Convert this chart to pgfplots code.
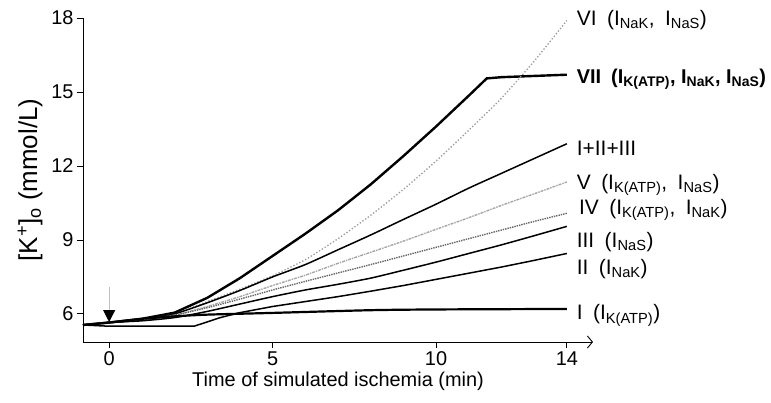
\documentclass[border=0pt]{standalone}
\usepackage{fontspec}
\setmainfont{Liberation Sans}
\usepackage{pgfplots}
\pgfplotsset{compat=1.18}
\usetikzlibrary{arrows.meta}
\newcommand{\lf}{\fontsize{20}{24}\selectfont}
\newcommand{\rf}{\fontsize{21}{25}\selectfont}
\begin{document}
\begin{tikzpicture}
\begin{axis}[
 scale only axis, width=510bp, height=324bp,
 xmin=-0.8, xmax=14.8, ymin=4.86, ymax=18,
 axis x line=bottom, axis y line=left,
 x axis line style={-{Straight Barb[length=5bp,width=12bp]}},
 y axis line style={-},
 axis line style={line width=0.9bp},
 xtick={0,5,10,14}, ytick={6,9,12,15,18},
 tick style={black, line width=0.8bp},
 tick align=outside, major tick length=6bp,
 ticklabel style={font=\lf},
 /pgf/number format/assume math mode=true,
 xlabel={Time of simulated ischemia (min)},
 ylabel={[K\textsuperscript{+}]\textsubscript{o} (mmol/L)},
 xlabel style={font=\lf},
 ylabel style={font=\fontsize{26}{30}\selectfont, yshift=2bp},
 clip=false,
]
% VII
\addplot[black, line width=2.4bp] coordinates {(-0.8,5.55)(0,5.65)(1,5.8)(2,6.05)(3,6.65)(4,7.45)(5,8.35)(6,9.25)(7,10.2)(8,11.25)(9,12.4)(10,13.6)(11,14.85)(11.55,15.55)(12,15.6)(13,15.65)(14,15.7)};
% VI
\addplot[gray!80, line width=1.3bp, dotted, smooth, tension=0.4] coordinates {(-0.8,5.55)(0,5.65)(1,5.75)(2,6.0)(3,6.5)(4,7.0)(5,7.55)(6,8.2)(7,9.05)(8,10.0)(9,11.05)(10,12.2)(11,13.45)(12,14.75)(13,16.25)(14,17.9)};
% I+II+III
\addplot[black, line width=1.5bp, smooth, tension=0.4] coordinates {(-0.8,5.55)(0,5.65)(1,5.75)(2,6.0)(3,6.45)(4,6.95)(5,7.5)(6,8.0)(7,8.6)(8,9.2)(9,9.83)(10,10.45)(11,11.1)(12,11.7)(13,12.3)(14,12.9)};
% V
\addplot[gray!70, line width=1.4bp, densely dashdotted, smooth, tension=0.4] coordinates {(-0.8,5.55)(0,5.65)(1,5.75)(2,5.95)(3,6.3)(4,6.7)(5,7.15)(6,7.57)(7,8.05)(8,8.5)(9,8.95)(10,9.43)(11,9.9)(12,10.4)(13,10.87)(14,11.35)};
% IV
\addplot[gray!80!black, line width=1.4bp, densely dotted, smooth, tension=0.4] coordinates {(-0.8,5.55)(0,5.65)(1,5.75)(2,5.95)(3,6.25)(4,6.6)(5,6.97)(6,7.32)(7,7.66)(8,8.0)(9,8.35)(10,8.7)(11,9.05)(12,9.4)(13,9.75)(14,10.08)};
% III
\addplot[black, line width=1.5bp, smooth, tension=0.4] coordinates {(-0.8,5.55)(0,5.65)(1,5.72)(2,5.85)(3,6.1)(4,6.4)(5,6.7)(6,6.97)(7,7.2)(8,7.45)(9,7.77)(10,8.1)(11,8.45)(12,8.8)(13,9.17)(14,9.55)};
% II
\addplot[black, line width=1.5bp] coordinates {(-0.8,5.55)(0,5.5)(1,5.5)(2.6,5.5)(3.4,5.85)(4,6.05)(5,6.3)(6,6.5)(7,6.7)(8,6.92)(9,7.15)(10,7.4)(11,7.65)(12,7.9)(13,8.17)(14,8.45)};
% I
\addplot[black, line width=2.2bp, smooth, tension=0.4] coordinates {(-0.8,5.55)(0,5.65)(1,5.8)(2,5.9)(3,5.97)(5,6.04)(8,6.15)(10,6.18)(14,6.2)};
% arrow
\draw[gray!50, line width=1bp, -{Triangle[length=12bp,width=12bp,color=black]}] (axis cs:0,7.1) -- (axis cs:0,5.67);
% labels
\node[anchor=base west, font=\rf, inner sep=0pt] at (axis cs:14.3,17.71) {VI\enspace(I\textsubscript{NaK},\enspace I\textsubscript{NaS})};
\node[anchor=base west, font=\lf\bfseries, inner sep=0pt] at (axis cs:14.3,15.35) {VII\enspace(I\textsubscript{K(ATP)}, I\textsubscript{NaK}, I\textsubscript{NaS})};
\node[anchor=base west, font=\rf, inner sep=0pt] at (axis cs:14.3,12.41) {I+II+III};
\node[anchor=base west, font=\rf, inner sep=0pt] at (axis cs:14.3,11.06) {V\enspace(I\textsubscript{K(ATP)},\enspace I\textsubscript{NaS})};
\node[anchor=base west, font=\rf, inner sep=0pt] at (axis cs:14.37,10.04) {IV\enspace(I\textsubscript{K(ATP)},\enspace I\textsubscript{NaK})};
\node[anchor=base west, font=\rf, inner sep=0pt] at (axis cs:14.3,8.69) {III\enspace(I\textsubscript{NaS})};
\node[anchor=base west, font=\rf, inner sep=0pt] at (axis cs:14.3,7.59) {II\enspace(I\textsubscript{NaK})};
\node[anchor=base west, font=\rf, inner sep=0pt] at (axis cs:14.3,5.76) {I\enspace(I\textsubscript{K(ATP)})};
\end{axis}
\pgfresetboundingbox
\path[use as bounding box] ([shift={(-83bp,-61bp)}]current axis.south west) rectangle ([shift={(178bp,18bp)}]current axis.north east);
\end{tikzpicture}
\end{document}
